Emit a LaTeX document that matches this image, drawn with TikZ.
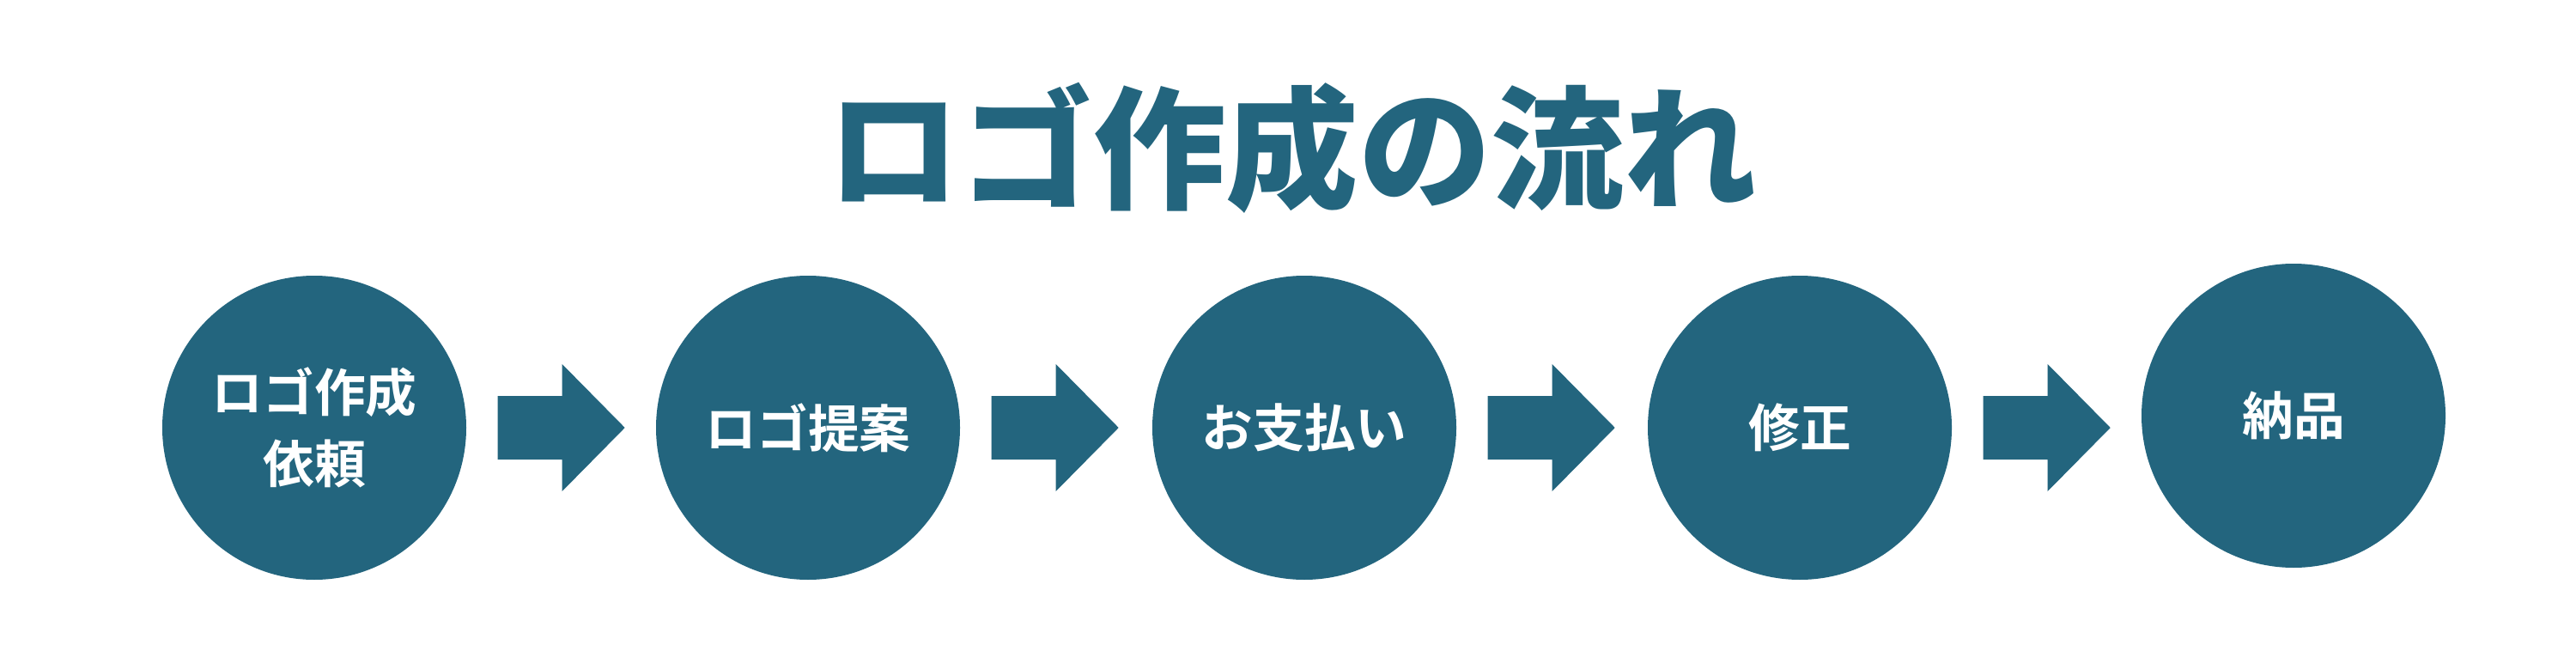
\documentclass[tikz,border=0pt]{standalone}
\usepackage{fontspec}
\usepackage{tikz}
\usetikzlibrary{calc,positioning}
\newfontfamily\titlefont{Noto Sans CJK JP}[UprightFont=* Black]
\newfontfamily\stepfont{Noto Sans CJK JP}[UprightFont=* Bold]
\definecolor{teal}{HTML}{23657E}
\definecolor{bg}{HTML}{FFFFFF}
\tikzset{
  stepcircle/.style={circle, fill=teal, minimum size=3.54cm, inner sep=0pt,
    text=white, font=\stepfont\fontsize{17}{23.5}\selectfont, align=center},
  flow/.style={fill=teal},
  headline/.style={text=teal, font=\titlefont\fontsize{44}{50}\selectfont, inner sep=0pt}
}

\begin{document}
\begin{tikzpicture}
  \useasboundingbox[fill=bg] (0,0) rectangle (30,7.5);
  \node[headline] (title) at (15.05,5.78) {ロゴ作成の流れ};
  \node[stepcircle] (c1) at (3.66,2.52) {ロゴ作成\\依頼};
  \node[stepcircle] (c2) at (9.41,2.52) {ロゴ提案};
  \node[stepcircle] (c3) at (15.19,2.52) {お支払い};
  \node[stepcircle] (c4) at (20.96,2.52) {修正};
  \node[stepcircle] (c5) at (26.71,2.66) {納品};
  % block arrows between the steps
  \foreach \a in {1,2,3,4}{
    \fill[flow] ($(c\a.east)+(0.36,0.37)$) -- ++(0.75,0) -- ++(0,0.37)
      -- ++(0.73,-0.74) -- ++(-0.73,-0.74) -- ++(0,0.37) -- ++(-0.75,0) -- cycle;
  }
\end{tikzpicture}
\end{document}
